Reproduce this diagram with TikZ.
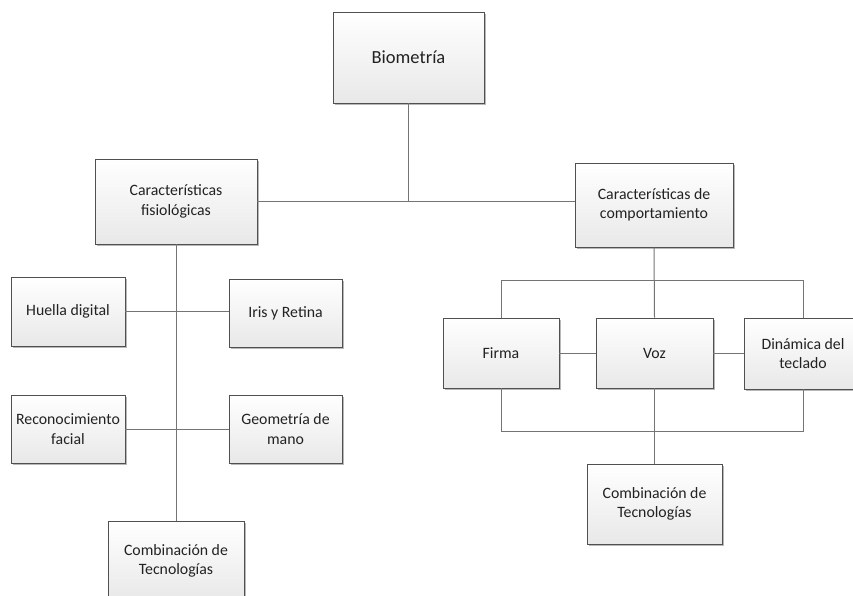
\documentclass[tikz,border=0pt]{standalone}
\usepackage{fontspec}
\setmainfont{Carlito}
\usetikzlibrary{shadows}

\definecolor{boxline}{HTML}{505050}
\definecolor{wire}{HTML}{747474}
\definecolor{ink}{HTML}{222222}

\tikzset{
  block/.style={
    draw=boxline, line width=0.9pt,
    top color=white, bottom color=black!9,
    drop shadow={shadow xshift=2pt, shadow yshift=-2pt, fill=black!28, opacity=1},
    inner sep=0pt, align=center, text=ink,
    font=\fontsize{15.8}{19.3}\selectfont
  },
  wire/.style={draw=wire, line width=1pt}
}

\begin{document}
\begin{tikzpicture}[x=1pt, y=-1pt]
\useasboundingbox (0,0) rectangle (853,596);

% root and the two main groups
\node[block, minimum width=151pt, minimum height=91pt,
      font=\fontsize{18.5}{22}\selectfont] (bio) at (408.5,57.5) {Biometría};
\node[block, minimum width=162pt, minimum height=85pt] (fis) at (176,201.5)
  {Características\\fisiológicas};
\node[block, minimum width=158pt, minimum height=84pt] (comp) at (654,205)
  {Características de\\comportamiento};

% physiological traits
\node[block, minimum width=114pt, minimum height=69pt] (huella) at (68,311.5) {Huella digital};
\node[block, minimum width=113pt, minimum height=68pt] (iris) at (285.5,313) {Iris y Retina};
\node[block, minimum width=114pt, minimum height=68pt] (reco) at (68,429) {Reconocimiento\\facial};
\node[block, minimum width=113pt, minimum height=68pt] (geo) at (285.5,429) {Geometría de\\mano};
\node[block, minimum width=136pt, minimum height=80pt] (combA) at (176,561) {Combinación de\\Tecnologías};

% behavioural traits
\node[block, minimum width=116pt, minimum height=70pt] (firma) at (501,353) {Firma};
\node[block, minimum width=117pt, minimum height=70pt] (voz) at (654.5,353) {Voz};
\node[block, minimum width=118pt, minimum height=71pt] (din) at (803,353.5) {Dinámica del\\teclado};
\node[block, minimum width=135pt, minimum height=80pt] (combB) at (654.5,504) {Combinación de\\Tecnologías};

% helper points for the brackets around the behavioural row
\coordinate (topbar) at (654,280);
\coordinate (botbar) at (654,431);

% connectors of the physiological branch
\draw[wire] (fis.east) -- (fis.east -| comp.west);
\draw[wire] (bio.south) -- (bio.south |- fis.east);
\draw[wire] (fis.south) -- (combA.north);
\draw[wire] (huella.east) -- (huella.east -| iris.west);
\draw[wire] (reco.east) -- (reco.east -| geo.west);

% connectors of the behavioural branch
\draw[wire] (comp.south) -- (voz.north);
\draw[wire] (firma.north) -- (firma.north |- topbar) -- (din.north |- topbar) -- (din.north);
\draw[wire] (firma.south) -- (firma.south |- botbar) -- (din.south |- botbar) -- (din.south);
\draw[wire] (firma.east) -- (voz.west);
\draw[wire] (voz.east) -- (voz.east -| din.west);
\draw[wire] (voz.south) -- (combB.north);
\end{tikzpicture}
\end{document}
